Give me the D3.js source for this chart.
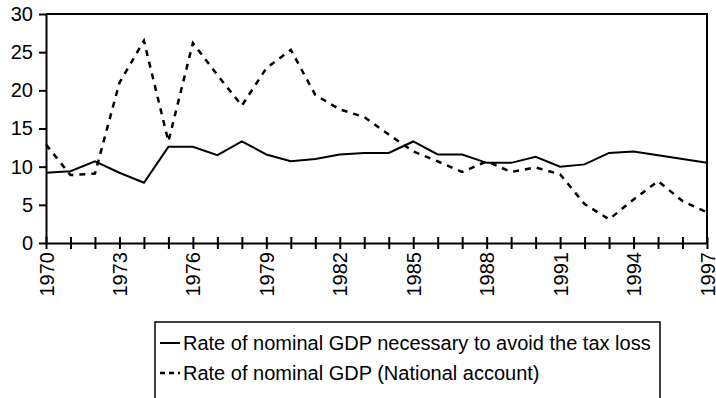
<!DOCTYPE html>
<html>
<head>
<meta charset="utf-8">
<script src="https://cdn.jsdelivr.net/npm/d3@7"></script>
<style>
  body { margin: 0; background: #fff; }
  svg text { font-family: "Liberation Sans", Arial, sans-serif; fill: #000; }
</style>
</head>
<body>
<svg class="chart" width="716" height="398"></svg>
<script>
var years = d3.range(1970, 1998);
var necessaryRate = [9.2, 9.4, 10.7, 9.2, 7.9, 12.6, 12.6, 11.5, 13.3, 11.6,
                     10.7, 11.0, 11.6, 11.8, 11.8, 13.3, 11.6, 11.6, 10.5, 10.5,
                     11.3, 10.0, 10.3, 11.8, 12.0, 11.5, 11.0, 10.5];
var nationalRate = [12.9, 8.9, 9.1, 21.0, 26.5, 13.3, 26.2, 22.0, 18.0, 22.9,
                    25.3, 19.4, 17.5, 16.5, 14.2, 12.0, 10.7, 9.3, 10.7, 9.3,
                    9.9, 9.0, 5.1, 3.1, 5.7, 8.1, 5.5, 4.0];
var yTicks = [0, 5, 10, 15, 20, 25, 30];
var yearLabels = d3.range(1970, 1998, 3);
var legendLabels = ["Rate of nominal GDP necessary to avoid the tax loss",
                    "Rate of nominal GDP (National account)"];

var vis = d3.select(".chart"),
    MARGINS = {top: 14, right: 9, bottom: 155, left: 46},
    WIDTH = 716, HEIGHT = 398;

var xScale = d3.scaleLinear().domain([1970, 1997]).range([MARGINS.left, WIDTH - MARGINS.right]),
    yScale = d3.scaleLinear().domain([0, 30]).range([HEIGHT - MARGINS.bottom, MARGINS.top]);

// frame (top + right)
vis.append("path")
    .attr("d", "M" + xScale(1970) + "," + yScale(30) + "H" + xScale(1997) + "V" + yScale(0))
    .attr("fill", "none").attr("stroke", "#000").attr("stroke-width", 2);

// y axis
var yAxis = d3.axisLeft(yScale).tickValues(yTicks).tickSize(7).tickPadding(6).tickSizeOuter(0);
var gy = vis.append("g")
    .attr("transform", "translate(" + MARGINS.left + ",0)")
    .call(yAxis);
gy.selectAll("text").style("font-size", "20px");
gy.selectAll("path, line").attr("stroke-width", 2);

// x axis, ticks crossing the line
var xAxis = d3.axisBottom(xScale).tickValues(years).tickSize(6).tickSizeOuter(0)
    .tickFormat(function (d) { return yearLabels.indexOf(d) >= 0 ? d : ""; });
var gx = vis.append("g")
    .attr("transform", "translate(0," + yScale(0) + ")")
    .call(xAxis);
gx.selectAll("path, line").attr("stroke-width", 2);
gx.selectAll("line").attr("y1", -6);
gx.selectAll("text")
    .style("font-size", "20px")
    .attr("text-anchor", "end")
    .attr("transform", "rotate(-90)")
    .attr("x", -9).attr("y", 0).attr("dy", "0.35em");

var lineGen = function (vals) {
  return d3.line()
      .x(function (d, i) { return xScale(years[i]); })
      .y(function (d) { return yScale(d); })(vals);
};

vis.append("path")
    .attr("d", lineGen(necessaryRate))
    .attr("fill", "none").attr("stroke", "#000").attr("stroke-width", 2);

vis.append("path")
    .attr("d", lineGen(nationalRate))
    .attr("fill", "none").attr("stroke", "#000").attr("stroke-width", 2.5)
    .attr("stroke-dasharray", "6,6");

// legend
var lg = vis.append("g");
lg.append("rect")
    .attr("x", 155).attr("y", 322).attr("width", 505).attr("height", 90)
    .attr("fill", "#fff").attr("stroke", "#000").attr("stroke-width", 1.5);
legendLabels.forEach(function (label, i) {
  var y = 343 + i * 30;
  lg.append("line")
      .attr("x1", 160).attr("x2", 180).attr("y1", y).attr("y2", y)
      .attr("stroke", "#000").attr("stroke-width", i ? 2.5 : 2)
      .attr("stroke-dasharray", i ? "5,4" : null);
  lg.append("text")
      .attr("x", 183).attr("y", y).attr("dy", "0.35em")
      .style("font-size", "20px")
      .text(label);
});
</script>
</body>
</html>
